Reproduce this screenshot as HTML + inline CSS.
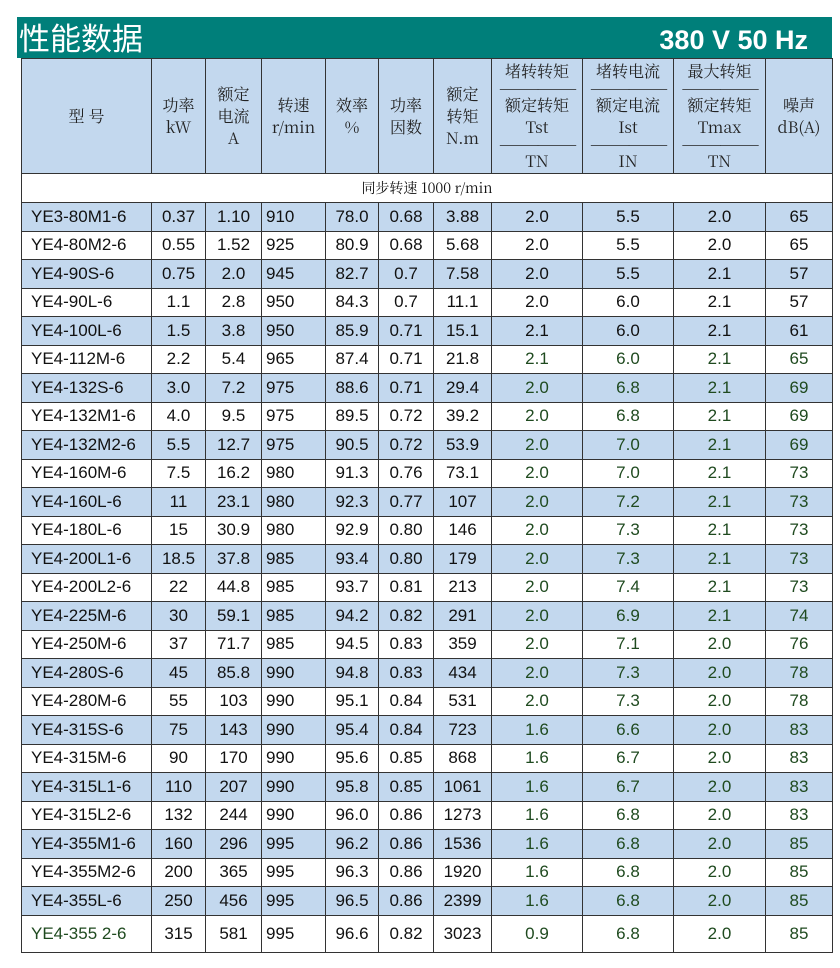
<!DOCTYPE html>
<html><head><meta charset="utf-8"><style>
body{margin:0;width:840px;height:968px;background:#fff;position:relative;overflow:hidden;font-family:"Liberation Sans","Noto Sans CJK SC",sans-serif}
.bar{position:absolute;left:17px;top:17px;width:815px;height:41px;background:#007f7a}
.t1{position:absolute;left:19px;top:14px;font:31px "Noto Sans CJK SC",sans-serif;color:#fff;line-height:46px}
.t2{position:absolute;right:32px;top:20px;font:bold 27px "Liberation Sans",sans-serif;color:#fff;line-height:40px}
table{position:absolute;left:21px;top:58px;width:811px;border-collapse:collapse;table-layout:fixed}
td{border:1.5px solid #333;padding:0;text-align:center;font-size:17px;color:#111;height:27.5px;line-height:26px}
tr.h td{background:#c3d8ee;height:114px;font:16px/22px "Noto Serif CJK SC","Liberation Serif",serif;color:#222}
tr.s td{height:28px;font:14px "Noto Serif CJK SC","Liberation Mono",serif;text-align:center}
tr.b td{background:#c3d8ee}
td.l{text-align:left;padding-left:9px}
td.x{text-align:left;padding-left:4px}
.g{color:#1f4a1f}
.last td{height:36px}
.ln{display:block;letter-spacing:-2px;line-height:12px}
</style></head><body>
<div class="bar"></div><div class="t1">性能数据</div><div class="t2">380 V 50 Hz</div>
<table>
<colgroup><col style="width:130px"><col style="width:54px"><col style="width:56px"><col style="width:64px"><col style="width:53px"><col style="width:55px"><col style="width:58px"><col style="width:91px"><col style="width:91px"><col style="width:92px"><col style="width:67px"></colgroup>
<tr class="h"><td>型 号</td><td>功率<br>kW</td><td>额定<br>电流<br>A</td><td>转速<br>r/min</td><td>效率<br>%</td><td>功率<br>因数</td><td>额定<br>转矩<br>N.m</td>
<td>堵转转矩<span class="ln">——————</span>额定转矩<br>Tst<span class="ln">——————</span>TN</td>
<td>堵转电流<span class="ln">——————</span>额定电流<br>Ist<span class="ln">——————</span>IN</td>
<td>最大转矩<span class="ln">——————</span>额定转矩<br>Tmax<span class="ln">——————</span>TN</td>
<td>噪声<br>dB(A)</td></tr>
<tr class="s"><td colspan="11">同步转速 1000 r/min</td></tr>
<tr class="b"><td class="l">YE3-80M1-6</td><td>0.37</td><td>1.10</td><td class="x">910</td><td>78.0</td><td>0.68</td><td>3.88</td><td>2.0</td><td>5.5</td><td>2.0</td><td>65</td></tr>
<tr><td class="l">YE4-80M2-6</td><td>0.55</td><td>1.52</td><td class="x">925</td><td>80.9</td><td>0.68</td><td>5.68</td><td>2.0</td><td>5.5</td><td>2.0</td><td>65</td></tr>
<tr class="b"><td class="l">YE4-90S-6</td><td>0.75</td><td>2.0</td><td class="x">945</td><td>82.7</td><td>0.7</td><td>7.58</td><td>2.0</td><td>5.5</td><td>2.1</td><td>57</td></tr>
<tr><td class="l">YE4-90L-6</td><td>1.1</td><td>2.8</td><td class="x">950</td><td>84.3</td><td>0.7</td><td>11.1</td><td>2.0</td><td>6.0</td><td>2.1</td><td>57</td></tr>
<tr class="b"><td class="l">YE4-100L-6</td><td>1.5</td><td>3.8</td><td class="x">950</td><td>85.9</td><td>0.71</td><td>15.1</td><td>2.1</td><td>6.0</td><td>2.1</td><td>61</td></tr>
<tr><td class="l">YE4-112M-6</td><td>2.2</td><td>5.4</td><td class="x">965</td><td>87.4</td><td>0.71</td><td>21.8</td><td class="g">2.1</td><td class="g">6.0</td><td class="g">2.1</td><td class="g">65</td></tr>
<tr class="b"><td class="l">YE4-132S-6</td><td>3.0</td><td>7.2</td><td class="x">975</td><td>88.6</td><td>0.71</td><td>29.4</td><td class="g">2.0</td><td class="g">6.8</td><td class="g">2.1</td><td class="g">69</td></tr>
<tr><td class="l">YE4-132M1-6</td><td>4.0</td><td>9.5</td><td class="x">975</td><td>89.5</td><td>0.72</td><td>39.2</td><td class="g">2.0</td><td class="g">6.8</td><td class="g">2.1</td><td class="g">69</td></tr>
<tr class="b"><td class="l">YE4-132M2-6</td><td>5.5</td><td>12.7</td><td class="x">975</td><td>90.5</td><td>0.72</td><td>53.9</td><td class="g">2.0</td><td class="g">7.0</td><td class="g">2.1</td><td class="g">69</td></tr>
<tr><td class="l">YE4-160M-6</td><td>7.5</td><td>16.2</td><td class="x">980</td><td>91.3</td><td>0.76</td><td>73.1</td><td class="g">2.0</td><td class="g">7.0</td><td class="g">2.1</td><td class="g">73</td></tr>
<tr class="b"><td class="l">YE4-160L-6</td><td>11</td><td>23.1</td><td class="x">980</td><td>92.3</td><td>0.77</td><td>107</td><td class="g">2.0</td><td class="g">7.2</td><td class="g">2.1</td><td class="g">73</td></tr>
<tr><td class="l">YE4-180L-6</td><td>15</td><td>30.9</td><td class="x">980</td><td>92.9</td><td>0.80</td><td>146</td><td class="g">2.0</td><td class="g">7.3</td><td class="g">2.1</td><td class="g">73</td></tr>
<tr class="b"><td class="l">YE4-200L1-6</td><td>18.5</td><td>37.8</td><td class="x">985</td><td>93.4</td><td>0.80</td><td>179</td><td class="g">2.0</td><td class="g">7.3</td><td class="g">2.1</td><td class="g">73</td></tr>
<tr><td class="l">YE4-200L2-6</td><td>22</td><td>44.8</td><td class="x">985</td><td>93.7</td><td>0.81</td><td>213</td><td class="g">2.0</td><td class="g">7.4</td><td class="g">2.1</td><td class="g">73</td></tr>
<tr class="b"><td class="l">YE4-225M-6</td><td>30</td><td>59.1</td><td class="x">985</td><td>94.2</td><td>0.82</td><td>291</td><td class="g">2.0</td><td class="g">6.9</td><td class="g">2.1</td><td class="g">74</td></tr>
<tr><td class="l">YE4-250M-6</td><td>37</td><td>71.7</td><td class="x">985</td><td>94.5</td><td>0.83</td><td>359</td><td class="g">2.0</td><td class="g">7.1</td><td class="g">2.0</td><td class="g">76</td></tr>
<tr class="b"><td class="l">YE4-280S-6</td><td>45</td><td>85.8</td><td class="x">990</td><td>94.8</td><td>0.83</td><td>434</td><td class="g">2.0</td><td class="g">7.3</td><td class="g">2.0</td><td class="g">78</td></tr>
<tr><td class="l">YE4-280M-6</td><td>55</td><td>103</td><td class="x">990</td><td>95.1</td><td>0.84</td><td>531</td><td class="g">2.0</td><td class="g">7.3</td><td class="g">2.0</td><td class="g">78</td></tr>
<tr class="b"><td class="l">YE4-315S-6</td><td>75</td><td>143</td><td class="x">990</td><td>95.4</td><td>0.84</td><td>723</td><td class="g">1.6</td><td class="g">6.6</td><td class="g">2.0</td><td class="g">83</td></tr>
<tr><td class="l">YE4-315M-6</td><td>90</td><td>170</td><td class="x">990</td><td>95.6</td><td>0.85</td><td>868</td><td class="g">1.6</td><td class="g">6.7</td><td class="g">2.0</td><td class="g">83</td></tr>
<tr class="b"><td class="l">YE4-315L1-6</td><td>110</td><td>207</td><td class="x">990</td><td>95.8</td><td>0.85</td><td>1061</td><td class="g">1.6</td><td class="g">6.7</td><td class="g">2.0</td><td class="g">83</td></tr>
<tr><td class="l">YE4-315L2-6</td><td>132</td><td>244</td><td class="x">990</td><td>96.0</td><td>0.86</td><td>1273</td><td class="g">1.6</td><td class="g">6.8</td><td class="g">2.0</td><td class="g">83</td></tr>
<tr class="b"><td class="l">YE4-355M1-6</td><td>160</td><td>296</td><td class="x">995</td><td>96.2</td><td>0.86</td><td>1536</td><td class="g">1.6</td><td class="g">6.8</td><td class="g">2.0</td><td class="g">85</td></tr>
<tr><td class="l">YE4-355M2-6</td><td>200</td><td>365</td><td class="x">995</td><td>96.3</td><td>0.86</td><td>1920</td><td class="g">1.6</td><td class="g">6.8</td><td class="g">2.0</td><td class="g">85</td></tr>
<tr class="b"><td class="l">YE4-355L-6</td><td>250</td><td>456</td><td class="x">995</td><td>96.5</td><td>0.86</td><td>2399</td><td class="g">1.6</td><td class="g">6.8</td><td class="g">2.0</td><td class="g">85</td></tr>
<tr class="last"><td class="l g">YE4-355 2-6</td><td>315</td><td>581</td><td class="x">995</td><td>96.6</td><td>0.82</td><td>3023</td><td class="g">0.9</td><td class="g">6.8</td><td class="g">2.0</td><td class="g">85</td></tr>
</table>
</body></html>
